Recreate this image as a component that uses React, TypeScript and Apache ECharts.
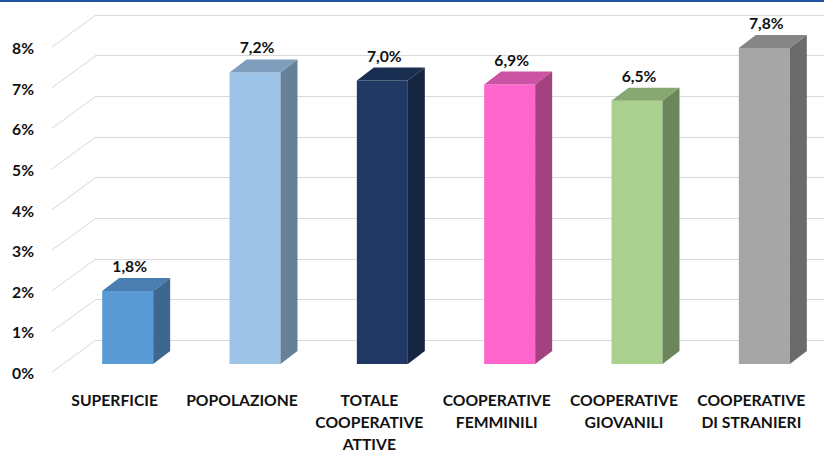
import React, { useEffect, useRef } from "react";
import * as echarts from "echarts";

const categories = [
  "SUPERFICIE",
  "POPOLAZIONE",
  "TOTALE\nCOOPERATIVE\nATTIVE",
  "COOPERATIVE\nFEMMINILI",
  "COOPERATIVE\nGIOVANILI",
  "COOPERATIVE\nDI STRANIERI",
];
const values = [1.8, 7.2, 7.0, 6.9, 6.5, 7.8];
const yTicks = [0, 1, 2, 3, 4, 5, 6, 7, 8];

const frontColors = ["#5B9BD5", "#9DC3E6", "#203864", "#FF66CC", "#A9D08E", "#A6A6A6"];
const topColors = ["#4A7EB0", "#7F9EBD", "#1A2E52", "#CC52A3", "#88A872", "#868686"];
const sideColors = ["#3D678F", "#67809A", "#162642", "#A3427F", "#6C865B", "#6B6B6B"];

const FONT = "Lato, 'Open Sans', sans-serif";
const fmt = (v: number) => v.toFixed(1).replace(".", ",") + "%";

export default function App() {
  const ref = useRef<HTMLDivElement>(null);
  useEffect(() => {
    if (!ref.current) return;
    const chart = echarts.init(ref.current, null, { renderer: "svg" });
    const DX = 17;
    const DY = -13;
    const BW = 51;
    chart.setOption({
      animation: false,
      backgroundColor: "#ffffff",
      graphic: [
        { type: "rect", left: 0, top: 0, shape: { width: 824, height: 2 }, style: { fill: "#2150A0" } },
      ],
      grid: [
        { left: 95, top: 15, width: 729, height: 325, outerBoundsMode: "none", containLabel: false },
        { left: 64, top: 40, width: 764, height: 324, outerBoundsMode: "none", containLabel: false },
        { left: 51, top: 48, width: 764, height: 325, outerBoundsMode: "none", containLabel: false },
      ],
      xAxis: [
        { gridIndex: 0, type: "category", data: categories, show: false },
        { gridIndex: 1, type: "category", data: categories, show: false },
        {
          gridIndex: 2,
          type: "category",
          data: categories,
          axisLine: { show: false },
          axisTick: { show: false },
          axisLabel: {
            interval: 0,
            margin: 16,
            fontFamily: FONT,
            fontWeight: "bold",
            fontSize: 15.7,
            lineHeight: 22,
            color: "#111111",
          },
        },
      ],
      yAxis: [
        {
          gridIndex: 0,
          type: "value",
          min: 0,
          max: 8,
          interval: 1,
          axisLabel: { show: false },
          axisLine: { show: false },
          axisTick: { show: false },
          splitLine: { show: true, lineStyle: { color: "#D9D9D9", width: 1 } },
        },
        { gridIndex: 1, type: "value", min: 0, max: 8, interval: 1, show: false, splitLine: { show: false } },
        {
          gridIndex: 2,
          type: "value",
          min: 0,
          max: 8,
          interval: 1,
          axisLine: { show: false },
          axisTick: { show: false },
          splitLine: { show: false },
          axisLabel: {
            margin: 17,
            formatter: "{value}%",
            fontFamily: FONT,
            fontWeight: "bold",
            fontSize: 15.7,
            color: "#111111",
          },
        },
      ],
      series: [
        {
          type: "custom",
          xAxisIndex: 2,
          yAxisIndex: 2,
          data: yTicks.map((t) => [0, t]),
          renderItem: (params: any, api: any) => {
            const p = api.coord([0, api.value(1)]);
            const x0 = params.coordSys.x + 1;
            const y0 = p[1] - 1;
            return {
              type: "line",
              shape: { x1: x0, y1: y0, x2: x0 + 44, y2: y0 - 32 },
              style: { stroke: "#D9D9D9", lineWidth: 1 },
            };
          },
          silent: true,
        },
        {
          type: "custom",
          xAxisIndex: 1,
          yAxisIndex: 1,
          data: values.map((v, i) => [i, v]),
          renderItem: (params: any, api: any) => {
            const i = api.value(0);
            const v = api.value(1);
            const top = api.coord([i, v]);
            const base = api.coord([i, 0]);
            const x0 = top[0] - BW / 2;
            const x1 = top[0] + BW / 2;
            const y1 = top[1];
            const y0 = base[1];
            return {
              type: "group",
              children: [
                {
                  type: "rect",
                  shape: { x: x0, y: y1, width: BW, height: y0 - y1 },
                  style: { fill: frontColors[i] },
                },
                {
                  type: "polygon",
                  shape: { points: [[x0, y1], [x1, y1], [x1 + DX, y1 + DY], [x0 + DX, y1 + DY]] },
                  style: { fill: topColors[i] },
                },
                {
                  type: "polygon",
                  shape: { points: [[x1, y1], [x1 + DX, y1 + DY], [x1 + DX, y0 + DY], [x1, y0]] },
                  style: { fill: sideColors[i] },
                },
                {
                  type: "text",
                  x: top[0] + 2,
                  y: y1 + DY - 12,
                  style: {
                    text: fmt(v),
                    fontFamily: FONT,
                    fontWeight: "bold",
                    fontSize: 15.7,
                    fill: "#111111",
                    align: "center",
                    verticalAlign: "middle",
                  },
                },
              ],
            };
          },
        },
      ],
    });
    return () => chart.dispose();
  }, []);
  return (
    <div
      ref={ref}
      style={{ position: "fixed", left: 0, top: 0, width: 824, height: 452, background: "#fff" }}
    />
  );
}
